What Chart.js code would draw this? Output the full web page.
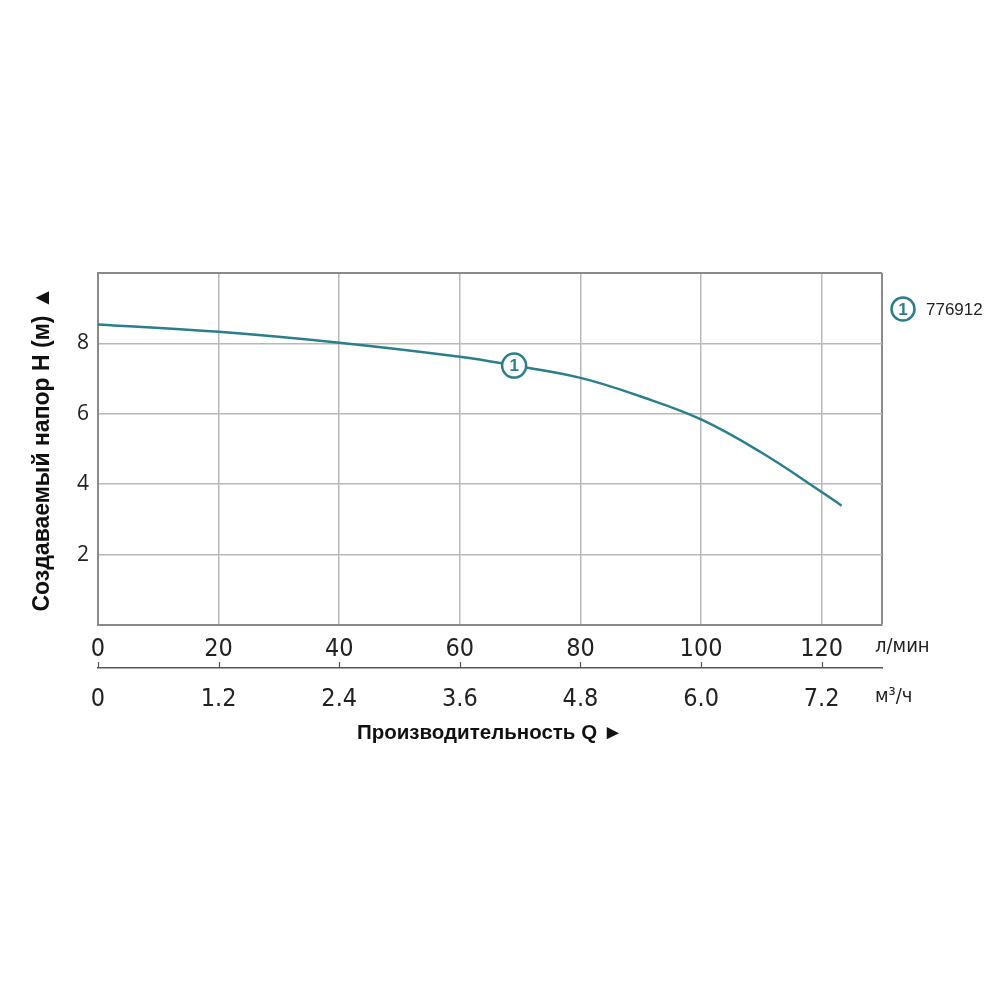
<!doctype html>
<html lang="ru">
<head>
    <meta charset="utf-8">
    <title>Напорная характеристика 776912</title>
    <script src="https://cdn.jsdelivr.net/npm/chart.js@4.4.0/dist/chart.umd.min.js"></script>
    <style>
        html, body { margin: 0; padding: 0; background: #fff; }
        #wrap { width: 1000px; height: 1000px; }
    </style>
</head>
<body>
    <div id="wrap"><canvas id="pumpChart"></canvas></div>
    <script>
        // flow Q in l/min and head H in m
        const flowLpm = [0, 20, 40, 60, 69, 80, 90, 100, 110, 120, 123.3];
        const headM   = [8.54, 8.33, 8.02, 7.62, 7.37, 7.02, 6.49, 5.84, 4.9, 3.78, 3.39];
        const lpmTicks = ['0', '20', '40', '60', '80', '100', '120'];
        const m3hTicks = ['0', '1.2', '2.4', '3.6', '4.8', '6.0', '7.2'];
        const headTicks = ['', '2', '4', '6', '8', ''];
        const seriesName = '776912';
        const curveLabelIndex = 4;

        const teal = '#2b7e8b';
        const gridGrey = '#b9b9b9';
        const frameGrey = '#8a8a8a';
        const narrow = '"Liberation Sans Narrow", "DejaVu Sans Condensed", Arial, sans-serif';

        const extras = {
            id: 'extras',
            afterDraw(chart) {
                const ctx = chart.ctx;
                const area = chart.chartArea;
                const x2 = chart.scales.x2;
                const x = chart.scales.x;

                // small upward tick marks on the m3/h axis
                ctx.save();
                ctx.strokeStyle = '#555';
                ctx.lineWidth = 1.2;
                x2.ticks.forEach(t => {
                    if (t.value > 120) return;
                    const px = Math.round(x2.getPixelForValue(t.value)) + 0.5;
                    ctx.beginPath();
                    ctx.moveTo(px, x2.top);
                    ctx.lineTo(px, x2.top - 6);
                    ctx.stroke();
                });

                // unit labels
                ctx.fillStyle = '#222';
                ctx.font = '20px ' + narrow;
                ctx.textBaseline = 'middle';
                ctx.textAlign = 'left';
                ctx.fillText('л/мин', area.right - 7, x.top + 22);
                ctx.fillText('м³/ч', area.right - 7, x2.top + 29);

                // curve marker
                const pt = chart.getDatasetMeta(0).data[curveLabelIndex];
                ctx.beginPath();
                ctx.arc(pt.x, pt.y, 12, 0, Math.PI * 2);
                ctx.fillStyle = '#fff';
                ctx.fill();
                ctx.lineWidth = 2.5;
                ctx.strokeStyle = teal;
                ctx.stroke();
                ctx.fillStyle = teal;
                ctx.textAlign = 'center';
                ctx.font = 'bold 17px "Liberation Sans", Arial, sans-serif';
                ctx.fillText('1', pt.x, pt.y + 1);

                // legend
                const lx = area.right + 21, ly = area.top + 36;
                ctx.beginPath();
                ctx.arc(lx, ly, 11.5, 0, Math.PI * 2);
                ctx.stroke();
                ctx.fillText('1', lx, ly + 1);
                ctx.fillStyle = '#222';
                ctx.textAlign = 'left';
                ctx.font = '17px "Liberation Sans", Arial, sans-serif';
                ctx.fillText(seriesName, lx + 23, ly + 1);
                ctx.restore();
            }
        };

        new Chart(document.getElementById('pumpChart'), {
            type: 'line',
            data: {
                datasets: [{
                    label: seriesName,
                    data: flowLpm.map((q, i) => ({ x: q, y: headM[i] })),
                    borderColor: teal,
                    borderWidth: 2.5,
                    pointRadius: 0,
                    tension: 0.4,
                    fill: false
                }]
            },
            options: {
                responsive: true,
                maintainAspectRatio: false,
                animation: false,
                layout: { padding: { top: 273, right: 118, bottom: 252, left: 0 } },
                plugins: { legend: { display: false }, tooltip: { enabled: false } },
                scales: {
                    x: {
                        type: 'linear',
                        position: 'bottom',
                        min: 0,
                        max: 130,
                        afterBuildTicks: s => {
                            s.ticks = [0, 20, 40, 60, 80, 100, 120, 130].map(v => ({ value: v }));
                        },
                        afterFit: s => { s.height = 43; },
                        grid: {
                            color: c => (c.tick && c.tick.value === 130) ? frameGrey : gridGrey,
                            lineWidth: c => (c.tick && c.tick.value === 130) ? 2 : 1.5,
                            drawTicks: false
                        },
                        border: { color: frameGrey, width: 2 },
                        ticks: {
                            padding: 9,
                            color: '#222',
                            font: { family: narrow, size: 25 },
                            maxRotation: 0,
                            autoSkip: false,
                            callback: (v, i) => lpmTicks[i] ?? ''
                        }
                    },
                    x2: {
                        type: 'linear',
                        position: 'bottom',
                        min: 0,
                        max: 130,
                        afterBuildTicks: s => {
                            s.ticks = [0, 20, 40, 60, 80, 100, 120, 130].map(v => ({ value: v }));
                        },
                        afterFit: s => { s.height = 80; },
                        grid: { drawOnChartArea: false, drawTicks: false },
                        border: { color: '#555', width: 1.5 },
                        ticks: {
                            padding: 16,
                            color: '#222',
                            font: { family: narrow, size: 25 },
                            maxRotation: 0,
                            autoSkip: false,
                            callback: (v, i) => m3hTicks[i] ?? ''
                        },
                        title: {
                            display: true,
                            text: 'Производительность Q ►',
                            color: '#111',
                            font: { family: '"Liberation Sans", Arial, sans-serif', size: 20.5, weight: 'bold' },
                            padding: { top: 0, bottom: 2 }
                        }
                    },
                    y: {
                        min: 0,
                        max: 10,
                        ticks: {
                            stepSize: 2,
                            padding: 9,
                            color: '#222',
                            font: { family: '"Open Sans", "Noto Sans", sans-serif', size: 21 },
                            callback: (v, i) => headTicks[i] ?? ''
                        },
                        afterFit: s => { s.width = 98; },
                        grid: {
                            color: c => (c.tick && c.tick.value === 10) ? frameGrey : gridGrey,
                            lineWidth: c => (c.tick && c.tick.value === 10) ? 2 : 1.5,
                            drawTicks: false
                        },
                        border: { color: frameGrey, width: 2 },
                        title: {
                            display: true,
                            text: 'Создаваемый напор H (м) ▲',
                            color: '#111',
                            font: { family: '"Liberation Sans", Arial, sans-serif', size: 23, weight: 'bold' },
                            padding: { top: 29, bottom: 0 }
                        }
                    }
                }
            },
            plugins: [extras]
        });
    </script>
</body>
</html>
